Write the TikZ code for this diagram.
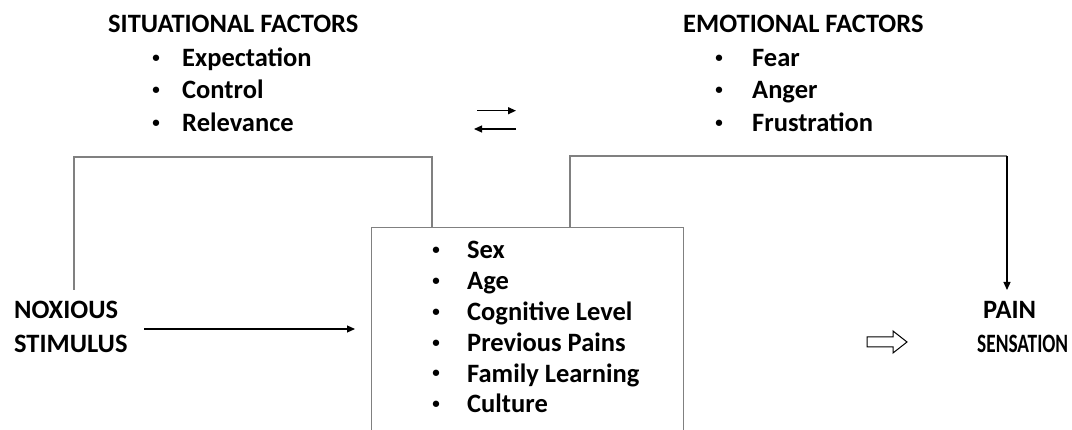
\documentclass[tikz,border=0pt]{standalone}
\usepackage{fontspec}
\usepackage{graphicx}
\setmainfont{Carlito}
\usetikzlibrary{arrows.meta}
\begin{document}
\begin{tikzpicture}[x=1pt,y=-1pt,
  txt/.style={inner sep=0pt,anchor=base west,font=\fontsize{26.5}{26.5}\selectfont\bfseries},
  bul/.style={inner sep=0pt,anchor=center,yshift=8pt,font=\fontsize{15}{15}\selectfont\bfseries},
  gline/.style={draw=black!50,line width=1.3pt},
  arr/.style={draw=black,line width=1.2pt,-{Triangle[length=8pt,width=7pt]}}]
\useasboundingbox (0,0) rectangle (1072,430);
\clip (0,0) rectangle (1072,430);
% situational
\node[txt] (sit) at (108,33) {SITUATIONAL FACTORS};
\node[bul] (sb1) at (156,67) {\textbullet};
\node[txt] (s1) at (182,67) {Expectation};
\node[bul] (sb2) at (156,99) {\textbullet};
\node[txt] (s2) at (182,99) {Control};
\node[bul] (sb3) at (156,132) {\textbullet};
\node[txt] (s3) at (182,132) {Relevance};
% emotional
\node[txt] (emo) at (683,33) {EMOTIONAL FACTORS};
\node[bul] (eb1) at (719,67) {\textbullet};
\node[txt] (e1) at (752,67) {Fear};
\node[bul] (eb2) at (719,99) {\textbullet};
\node[txt] (e2) at (752,99) {Anger};
\node[bul] (eb3) at (719,132) {\textbullet};
\node[txt] (e3) at (752,132) {Frustration};
% box
\node[gline,draw,minimum width=312pt,minimum height=230pt,anchor=north west,inner sep=0pt] (box) at (371,227) {};
\foreach \t [count=\i] in {Sex,Age,Cognitive Level,Previous Pains,Family Learning,Culture}{
  \node[bul] (bb\i) at (436,{259+30.8*(\i-1)}) {\textbullet};
  \node[txt] (b\i) at (467,{259+30.8*(\i-1)}) {\t};
}
% noxious and pain
\node[txt] (nox1) at (14,319) {NOXIOUS};
\node[txt] (nox2) at (14,353) {STIMULUS};
\node[txt] (pain1) at (983,319) {PAIN};
\node[txt] (pain2) at (977,353) {\scalebox{0.73}[1]{SENSATION}};
% exchange arrows
\coordinate (xa1) at (477,110.7); \coordinate (xa2) at (516,110.7);
\coordinate (xb1) at (516,129); \coordinate (xb2) at (474,129);
\draw[arr] (xa1) -- (xa2);
\draw[arr] (xb1) -- (xb2);
% noxious arrow
\coordinate (na) at (144,329);
\draw[arr,shorten >=16pt] (na) -- (na -| box.west);
% left bracket
\coordinate (l0) at (74,290);
\coordinate (l1) at (74,157);
\coordinate (l2) at (432,157);
\draw[gline] (l0) -- (l1) -- (l2) -- (l2 |- box.north);
% right bracket
\coordinate (r1) at (570,156);
\coordinate (r2) at (1007,156);
\coordinate (r3) at (1007,290);
\draw[gline] (r1 |- box.north) -- (r1) -- (r2);
\draw[arr] (r2) -- (r3);
% hollow arrow
\draw[line width=1pt] (867,337) -- (893,337) -- (893,331) -- (907,342) -- (893,353) -- (893,347) -- (867,347) -- cycle;
\end{tikzpicture}
\end{document}
